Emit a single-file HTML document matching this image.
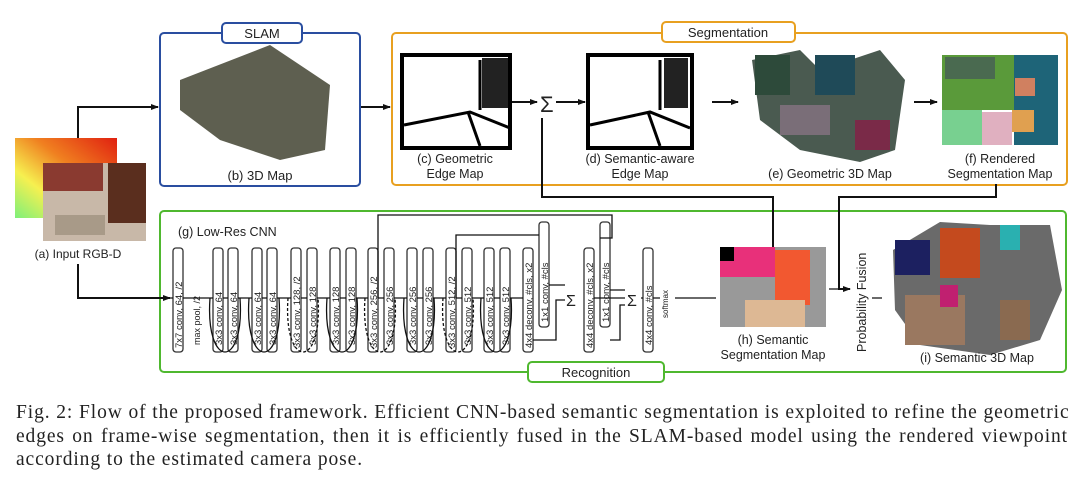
<!DOCTYPE html>
<html><head><meta charset="utf-8"><style>
body{margin:0;background:#fff;width:1080px;height:480px;overflow:hidden}
svg text{font-family:"Liberation Sans",sans-serif;fill:#222}
.cap{position:absolute;left:16px;top:401px;width:1052px;font-family:"Liberation Serif",serif;font-size:19.5px;letter-spacing:0.9px;line-height:23.5px;color:#222}
.cap div{white-space:nowrap;text-align:justify;text-align-last:justify}
.cap div.l{text-align-last:left}
</style></head><body>
<svg width="1080" height="400" viewBox="0 0 1080 400" style="position:absolute;left:0;top:0">
<defs>
<marker id="a" markerWidth="8" markerHeight="8" refX="7" refY="4" orient="auto" markerUnits="userSpaceOnUse"><path d="M0,1 L8,4 L0,7z" fill="#111"/></marker>
<linearGradient id="dg" x1="0" y1="1" x2="1" y2="0"><stop offset="0" stop-color="#7ef07a"/><stop offset="0.3" stop-color="#f6f050"/><stop offset="0.6" stop-color="#f08020"/><stop offset="1" stop-color="#e02010"/></linearGradient>
</defs>
<rect x="160" y="33" width="200" height="153" rx="4" fill="none" stroke="#2a4ea0" stroke-width="2"/>
<rect x="392" y="33" width="675" height="152" rx="4" fill="none" stroke="#e8a020" stroke-width="2"/>
<rect x="160" y="211" width="906" height="161" rx="4" fill="none" stroke="#4fb82f" stroke-width="2"/>
<rect x="222" y="23" width="80" height="20" rx="4" fill="#fff" stroke="#2a4ea0" stroke-width="2"/>
<text x="262" y="38" font-size="13" text-anchor="middle">SLAM</text>
<rect x="662" y="22" width="133" height="20" rx="4" fill="#fff" stroke="#e8a020" stroke-width="2"/>
<text x="728" y="37" font-size="13" text-anchor="middle">Segmentation</text>
<rect x="528" y="362" width="136" height="20" rx="4" fill="#fff" stroke="#4fb82f" stroke-width="2"/>
<text x="596" y="377" font-size="13" text-anchor="middle">Recognition</text>
<rect x="15" y="138" width="102" height="80" fill="url(#dg)"/>
<rect x="43" y="163" width="103" height="78" fill="#c8b8a8"/>
<rect x="43" y="163" width="60" height="28" fill="#8a3a30"/>
<rect x="108" y="163" width="38" height="60" fill="#5a2e1e"/>
<rect x="55" y="215" width="50" height="20" fill="#a89a88"/>
<text x="78" y="258" font-size="12" text-anchor="middle">(a) Input RGB-D</text>
<path d="M180,80 L270,45 L330,85 L325,150 L280,160 L220,140 L180,110z" fill="#5e5f50"/>
<text x="260" y="180" font-size="13" text-anchor="middle">(b) 3D Map</text>
<rect x="402" y="55" width="108" height="93" fill="#fff" stroke="#000" stroke-width="4"/>
<path d="M404,125 L470,112 L510,128 M468,112 L480,146 M480,60 L480,110" stroke="#000" stroke-width="3" fill="none"/>
<rect x="482" y="58" width="26" height="50" fill="#222"/>
<text x="455" y="163" font-size="12.5" text-anchor="middle">(c) Geometric</text>
<text x="455" y="178" font-size="12.5" text-anchor="middle">Edge Map</text>
<rect x="588" y="55" width="104" height="93" fill="#fff" stroke="#000" stroke-width="4"/>
<path d="M590,125 L650,112 L690,128 M648,112 L660,146 M660,60 L660,110" stroke="#000" stroke-width="3" fill="none"/>
<rect x="664" y="58" width="24" height="50" fill="#222"/>
<text x="640" y="163" font-size="12.5" text-anchor="middle">(d) Semantic-aware</text>
<text x="640" y="178" font-size="12.5" text-anchor="middle">Edge Map</text>
<path d="M752,60 L800,50 L820,70 L880,50 L905,80 L895,150 L860,162 L800,150 L760,120z" fill="#4a5a50"/>
<rect x="755" y="55" width="35" height="40" fill="#2d4a3a"/><rect x="780" y="105" width="50" height="30" fill="#7a6e78"/>
<rect x="815" y="55" width="40" height="40" fill="#1f4a58"/><rect x="855" y="120" width="35" height="30" fill="#7a2a48"/>
<text x="830" y="178" font-size="12.5" text-anchor="middle">(e) Geometric 3D Map</text>
<rect x="942" y="55" width="72" height="55" fill="#5a9a3a"/><rect x="1014" y="55" width="44" height="90" fill="#1e6478"/>
<rect x="945" y="57" width="50" height="22" fill="#4a6a50"/><rect x="1015" y="78" width="20" height="18" fill="#d08060"/>
<rect x="942" y="110" width="40" height="35" fill="#78d090"/><rect x="982" y="112" width="30" height="33" fill="#e0b0c0"/><rect x="1012" y="110" width="22" height="22" fill="#e0a050"/>
<text x="1000" y="163" font-size="12.5" text-anchor="middle">(f) Rendered</text>
<text x="1000" y="178" font-size="12.5" text-anchor="middle">Segmentation Map</text>
<path d="M78,138 V107 H158" stroke="#111" stroke-width="2" fill="none" marker-end="url(#a)"/>
<path d="M361,107 H390" stroke="#111" stroke-width="2" marker-end="url(#a)"/>
<path d="M512,102 H537" stroke="#111" stroke-width="2" marker-end="url(#a)"/>
<text x="540" y="112" font-size="22">Σ</text>
<path d="M556,102 H585" stroke="#111" stroke-width="2" marker-end="url(#a)"/>
<path d="M542,118 V197 H773 V247" stroke="#111" stroke-width="2" fill="none"/>
<path d="M712,102 H738" stroke="#111" stroke-width="2" marker-end="url(#a)"/>
<path d="M914,102 H937" stroke="#111" stroke-width="2" marker-end="url(#a)"/>
<path d="M996,184 V197 H839 V289 H850" stroke="#111" stroke-width="2" fill="none" marker-end="url(#a)"/>
<path d="M78,264 V298 H170" stroke="#111" stroke-width="2" fill="none" marker-end="url(#a)"/>
<text x="178" y="236" font-size="12.5">(g) Low-Res CNN</text>
<g fill="#fff" stroke="#333" stroke-width="1.3">
<rect x="173" y="248" width="10" height="104" rx="3"/>
<rect x="213" y="248" width="10" height="104" rx="3"/><rect x="228" y="248" width="10" height="104" rx="3"/>
<rect x="252" y="248" width="10" height="104" rx="3"/><rect x="267" y="248" width="10" height="104" rx="3"/>
<rect x="291" y="248" width="10" height="104" rx="3"/><rect x="307" y="248" width="10" height="104" rx="3"/>
<rect x="330" y="248" width="10" height="104" rx="3"/><rect x="346" y="248" width="10" height="104" rx="3"/>
<rect x="368" y="248" width="10" height="104" rx="3"/><rect x="384" y="248" width="10" height="104" rx="3"/>
<rect x="407" y="248" width="10" height="104" rx="3"/><rect x="423" y="248" width="10" height="104" rx="3"/>
<rect x="446" y="248" width="10" height="104" rx="3"/><rect x="462" y="248" width="10" height="104" rx="3"/>
<rect x="484" y="248" width="10" height="104" rx="3"/><rect x="500" y="248" width="10" height="104" rx="3"/>
<rect x="523" y="248" width="10" height="104" rx="3"/>
<rect x="539" y="222" width="10" height="105" rx="3"/>
<rect x="584" y="248" width="10" height="104" rx="3"/>
<rect x="600" y="222" width="10" height="105" rx="3"/>
<rect x="643" y="248" width="10" height="104" rx="3"/>
</g>
<g font-size="9.5" fill="#333">
<text transform="translate(182,348) rotate(-90)">7x7 conv, 64, /2</text>
<text transform="translate(200,345) rotate(-90)" font-size="9">max pool, /2</text>
<text transform="translate(222,345) rotate(-90)">3x3 conv, 64</text><text transform="translate(237,345) rotate(-90)">3x3 conv, 64</text>
<text transform="translate(261,345) rotate(-90)">3x3 conv, 64</text><text transform="translate(276,345) rotate(-90)">3x3 conv, 64</text>
<text transform="translate(300,348) rotate(-90)">3x3 conv, 128, /2</text><text transform="translate(316,345) rotate(-90)">3x3 conv, 128</text>
<text transform="translate(339,345) rotate(-90)">3x3 conv, 128</text><text transform="translate(355,345) rotate(-90)">3x3 conv, 128</text>
<text transform="translate(377,348) rotate(-90)">3x3 conv, 256, /2</text><text transform="translate(393,345) rotate(-90)">3x3 conv, 256</text>
<text transform="translate(416,345) rotate(-90)">3x3 conv, 256</text><text transform="translate(432,345) rotate(-90)">3x3 conv, 256</text>
<text transform="translate(455,348) rotate(-90)">3x3 conv, 512, /2</text><text transform="translate(471,345) rotate(-90)">3x3 conv, 512</text>
<text transform="translate(493,345) rotate(-90)">3x3 conv, 512</text><text transform="translate(509,345) rotate(-90)">3x3 conv, 512</text>
<text transform="translate(532,348) rotate(-90)">4x4 deconv, #cls, x2</text>
<text transform="translate(548,322) rotate(-90)">1x1 conv, #cls</text>
<text transform="translate(593,348) rotate(-90)">4x4 deconv, #cls, x2</text>
<text transform="translate(609,322) rotate(-90)">1x1 conv, #cls</text>
<text transform="translate(652,345) rotate(-90)">4x4 conv, #cls</text>
<text transform="translate(668,318) rotate(-90)" font-size="8">softmax</text>
</g>
<g stroke="#111" stroke-width="1.3" fill="none">
<path d="M160,298 H173 M183,298 H213 M223,298 H228 M238,298 H252 M262,298 H267 M277,298 H291 M301,298 H307 M317,298 H330 M340,298 H346 M356,298 H368 M378,298 H384 M394,298 H407 M417,298 H423 M433,298 H446 M456,298 H462 M472,298 H484 M494,298 H500 M510,298 H523"/>
<path d="M210,298 C205,370 245,370 240,298 M249,298 C244,370 284,370 279,298 M327,298 C322,370 362,370 357,298 M404,298 C399,370 439,370 434,298 M481,298 C476,370 516,370 511,298"/>
<path stroke-dasharray="3,2" d="M288,298 C283,370 323,370 318,298 M365,298 C360,370 400,370 395,298 M443,298 C438,370 478,370 473,298"/>
<path d="M378,298 V215 H612 V238 H600 M456,298 V235 H539 M533,340 H556 V300 H565 M549,285 H565 M594,298 H625 M610,290 H625 M610,340 H620 V305 H625 M641,298 H643 M653,298 H660 M675,298 H716 M829,289 H850 M872,298 H882"/>
</g>
<text x="566" y="306" font-size="16">Σ</text>
<text x="627" y="306" font-size="16">Σ</text>
<rect x="720" y="247" width="106" height="80" fill="#999"/>
<rect x="720" y="247" width="55" height="30" fill="#e8307a"/><rect x="720" y="247" width="14" height="14" fill="#000"/>
<rect x="775" y="250" width="35" height="55" fill="#f25830"/><rect x="745" y="300" width="60" height="27" fill="#ddb894"/>
<text x="773" y="344" font-size="12.5" text-anchor="middle">(h) Semantic</text>
<text x="773" y="359" font-size="12.5" text-anchor="middle">Segmentation Map</text>
<text transform="translate(866,352) rotate(-90)" font-size="12.5">Probability Fusion</text>
<path d="M893,250 L940,222 L990,225 L1050,225 L1062,290 L1040,340 L990,355 L920,345 L895,310z" fill="#6a6a6a"/>
<rect x="895" y="240" width="35" height="35" fill="#1c2060"/><rect x="940" y="228" width="40" height="50" fill="#c44a1e"/>
<rect x="905" y="295" width="60" height="50" fill="#9a7860"/><rect x="1000" y="225" width="20" height="25" fill="#2ab0b0"/>
<rect x="1000" y="300" width="30" height="40" fill="#8a6a50"/><rect x="940" y="285" width="18" height="22" fill="#c02070"/>
<text x="977" y="362" font-size="12.5" text-anchor="middle">(i) Semantic 3D Map</text>
</svg>
<div class="cap">
<div>Fig. 2: Flow of the proposed framework. Efficient CNN-based semantic segmentation is exploited to refine the geometric</div>
<div>edges on frame-wise segmentation, then it is efficiently fused in the SLAM-based model using the rendered viewpoint</div>
<div class="l">according to the estimated camera pose.</div>
</div>
</body></html>
